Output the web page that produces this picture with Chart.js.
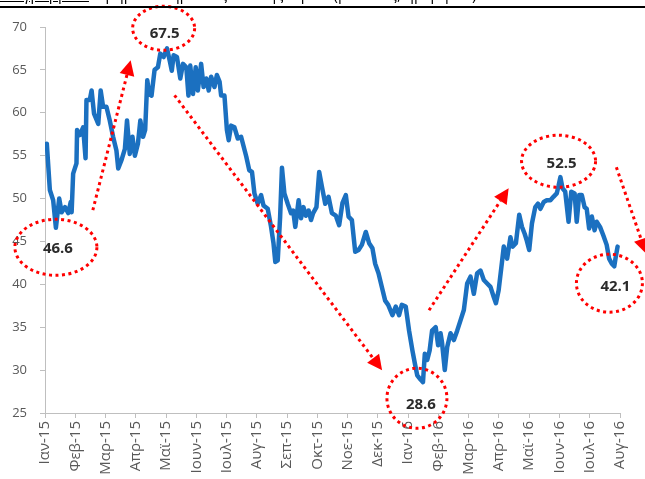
<!DOCTYPE html>
<html>
<head>
<meta charset="utf-8">
<script src="https://cdn.jsdelivr.net/npm/chart.js@4/dist/chart.umd.min.js"></script>
<style>
  html, body { margin: 0; padding: 0; background: #fff; }
  #wrap { position: relative; width: 645px; height: 479px; overflow: hidden; }
  #chart { position: absolute; left: 0; top: 0; }
  #title { position: absolute; left: 0; top: 0; width: 645px; height: 5px; overflow: hidden; }
  #title span { position: absolute; left: 0; top: -16px; font: 15px "Open Sans", sans-serif; color: #000; white-space: nowrap; }
  #rule { position: absolute; left: 0; top: 6px; width: 645px; height: 2px; background: #000; }
</style>
</head>
<body>
<div id="wrap">
  <canvas id="chart" width="645" height="479"></canvas>
  <div id="title"><span><u>Διάγραμμα 1</u>: Χρηματιστηριακός Δείκτης Τιμών (μονάδες, ημερήσια)</span></div>
  <div id="rule"></div>
</div>
<script>
// ── Data ──────────────────────────────────────────────────────────────────────
// x: months since start of Jan 2015 (0 = Ιαν-15), y: index level
const monthLabels = ['Ιαν-15','Φεβ-15','Μαρ-15','Απρ-15','Μαϊ-15','Ιουν-15','Ιουλ-15','Αυγ-15',
  'Σεπ-15','Οκτ-15','Νοε-15','Δεκ-15','Ιαν-16','Φεβ-16','Μαρ-16','Απρ-16','Μαϊ-16','Ιουν-16',
  'Ιουλ-16','Αυγ-16'];

const obsMonth = [
  0.06, 0.16, 0.27, 0.36, 0.47, 0.55, 0.66, 0.77, 0.85, 0.88, 0.93, 1.04, 1.06, 1.15, 1.26, 1.34,
  1.37, 1.48, 1.54, 1.62, 1.76, 1.84, 1.92, 2.03, 2.14, 2.25, 2.36, 2.42, 2.53, 2.64, 2.71, 2.80,
  2.89, 2.97, 3.07, 3.15, 3.24, 3.31, 3.38, 3.44, 3.52, 3.62, 3.73, 3.81, 3.92, 4.03, 4.12, 4.19,
  4.25, 4.36, 4.47, 4.56, 4.67, 4.74, 4.80, 4.89, 4.98, 5.05, 5.16, 5.24, 5.33, 5.41, 5.49, 5.60,
  5.68, 5.77, 5.82, 5.93, 6.01, 6.07, 6.15, 6.26, 6.37, 6.48, 6.65, 6.75, 6.84, 6.92, 7.03, 7.14,
  7.22, 7.36, 7.47, 7.55, 7.61, 7.69, 7.77, 7.83, 7.91, 8.02, 8.13, 8.20, 8.27, 8.38, 8.46, 8.54,
  8.62, 8.71, 8.79, 8.86, 8.97, 9.06, 9.15, 9.26, 9.37, 9.48, 9.61, 9.72, 9.83, 9.94, 10.03, 10.14,
  10.25, 10.36, 10.47, 10.60, 10.71, 10.82, 10.91, 11.02, 11.13, 11.24, 11.34, 11.48, 11.59, 11.70,
  11.79, 11.92, 12.03, 12.14, 12.22, 12.30, 12.41, 12.49, 12.55, 12.63, 12.71, 12.79, 12.91, 12.99,
  13.07, 13.12, 13.21, 13.29, 13.40, 13.51, 13.62, 13.73, 13.84, 13.95, 14.06, 14.17, 14.28, 14.39,
  14.50, 14.61, 14.72, 14.83, 14.90, 14.99, 15.08, 15.16, 15.27, 15.38, 15.45, 15.56, 15.67, 15.76,
  15.85, 15.92, 16.00, 16.09, 16.20, 16.29, 16.37, 16.48, 16.58, 16.70, 16.80, 16.91, 16.97, 17.03,
  17.10, 17.19, 17.30, 17.39, 17.50, 17.57, 17.65, 17.74, 17.83, 17.90, 17.98, 18.07, 18.16, 18.23,
  18.34, 18.45, 18.56, 18.64, 18.73, 18.81, 18.86, 18.92
];

const obsValue = [
  56.4, 51.0, 49.8, 46.6, 50.0, 48.4, 49.0, 48.3, 49.6, 48.4, 52.9, 54.1, 58.0, 57.4, 58.3, 54.7,
  61.5, 61.5, 62.6, 59.9, 58.7, 62.6, 60.7, 60.7, 59.1, 57.2, 55.6, 53.5, 54.5, 55.8, 59.1, 55.2,
  57.2, 55.0, 56.4, 59.1, 57.2, 58.0, 63.8, 62.2, 62.0, 65.0, 65.3, 66.9, 66.5, 67.5, 66.1, 64.9,
  66.7, 66.5, 64.0, 65.7, 65.3, 62.0, 65.5, 62.2, 65.3, 62.6, 65.7, 63.0, 64.0, 62.6, 64.2, 63.0,
  64.4, 63.6, 62.0, 62.0, 58.0, 56.8, 58.5, 58.3, 57.0, 57.2, 54.9, 53.3, 53.1, 50.6, 49.4, 50.4,
  49.2, 48.8, 46.7, 44.8, 42.6, 42.8, 47.9, 53.6, 50.6, 49.4, 48.3, 48.6, 46.7, 49.8, 47.7, 49.0,
  48.0, 48.6, 47.5, 48.3, 49.0, 53.1, 51.4, 49.4, 50.2, 48.3, 48.0, 46.9, 49.5, 50.4, 47.9, 47.5,
  43.8, 44.0, 44.6, 46.1, 44.8, 44.2, 42.4, 41.3, 39.7, 38.1, 37.6, 36.4, 37.4, 36.4,
  37.6, 37.4, 34.6, 32.3, 30.8, 29.4, 28.9, 28.6, 31.9, 31.2, 32.3, 34.6, 35.0, 32.9,
  34.3, 33.2, 30.0, 32.7, 34.3, 33.5, 34.6, 35.8, 37.0, 40.1, 40.9, 38.9, 41.3, 41.6,
  40.5, 40.1, 39.7, 38.5, 37.8, 39.3, 42.0, 44.4, 43.0, 45.5, 44.4, 44.8, 48.1, 46.7,
  45.9, 45.1, 44.0, 47.1, 49.0, 49.4, 48.8, 49.6, 49.8, 49.8, 50.2, 50.6, 51.5, 52.5,
  51.2, 50.8, 47.3, 50.8, 50.6, 47.3, 50.4, 50.4, 49.0, 48.8, 46.5, 47.9, 46.3, 47.3,
  46.7, 45.7, 44.6, 43.0, 42.4, 42.1, 43.2, 44.4
];

const yMin = 25, yMax = 70, yStep = 5;

// Callouts: dotted ellipse around a value label (centre in data units)
const callouts = [
  { label: '67.5', m: 3.92,  v: 69.85, rx: 31, ry: 22, dx: 1, dy: 5 },
  { label: '46.6', m: 0.36,  v: 44.32, rx: 41, ry: 28, dx: 2, dy: 1 },
  { label: '28.6', m: 12.29, v: 26.72, rx: 30, ry: 30, dx: 4, dy: 6 },
  { label: '52.5', m: 16.97, v: 54.35, rx: 37, ry: 26, dx: 3, dy: 2 },
  { label: '42.1', m: 18.65, v: 40.13, rx: 33, ry: 29, dx: 6, dy: 4 },
];

// Trend arrows: dotted line from (m0,v0) to arrow tip (m1,v1)
const arrows = [
  { m0: 1.58,  v0: 48.64, m1: 2.83,  v1: 66.12 },
  { m0: 4.28,  v0: 62.04, m1: 11.14, v1: 29.99 },
  { m0: 12.69, v0: 36.98, m1: 15.32, v1: 51.2 },
  { m0: 18.88, v0: 53.65, m1: 19.86, v1: 43.6 },
];

// ── Styles ────────────────────────────────────────────────────────────────────
const LINE_BLUE = '#1b70c0';
const RED       = '#ff0000';
const AXIS_GRAY = '#bfbfbf';
const TICK_TEXT = '#595959';
const FONT      = '"Open Sans", "DejaVu Sans", sans-serif';

// ── Callout plugin ────────────────────────────────────────────────────────────
const calloutPlugin = {
  id: 'callouts',
  afterDatasetsDraw(chart) {
    const { ctx, scales: { x, y } } = chart;
    ctx.save();
    ctx.lineWidth = 3;
    ctx.strokeStyle = RED;
    ctx.setLineDash([3, 3.5]);

    callouts.forEach(c => {
      const cx = x.getPixelForValue(c.m);
      const cy = y.getPixelForValue(c.v);
      ctx.beginPath();
      ctx.ellipse(cx, cy, c.rx, c.ry, 0, 0, Math.PI * 2);
      ctx.stroke();
    });

    arrows.forEach(a => {
      const x0 = x.getPixelForValue(a.m0), y0 = y.getPixelForValue(a.v0);
      const x1 = x.getPixelForValue(a.m1), y1 = y.getPixelForValue(a.v1);
      const len = Math.hypot(x1 - x0, y1 - y0);
      const ux = (x1 - x0) / len, uy = (y1 - y0) / len;
      const headLen = 15, headHalf = 7.5;
      const bx = x1 - ux * headLen, by = y1 - uy * headLen;
      ctx.beginPath();
      ctx.moveTo(x0, y0);
      ctx.lineTo(bx, by);
      ctx.stroke();
      ctx.save();
      ctx.setLineDash([]);
      ctx.fillStyle = RED;
      ctx.beginPath();
      ctx.moveTo(x1, y1);
      ctx.lineTo(bx - uy * headHalf, by + ux * headHalf);
      ctx.lineTo(bx + uy * headHalf, by - ux * headHalf);
      ctx.closePath();
      ctx.fill();
      ctx.restore();
    });

    ctx.setLineDash([]);
    ctx.fillStyle = '#2b2b2b';
    ctx.font = `bold 15px ${FONT}`;
    ctx.textAlign = 'center';
    ctx.textBaseline = 'middle';
    callouts.forEach(c => {
      ctx.fillText(c.label, x.getPixelForValue(c.m) + c.dx, y.getPixelForValue(c.v) + c.dy);
    });
    ctx.restore();
  },
};

// ── Chart ─────────────────────────────────────────────────────────────────────
new Chart(document.getElementById('chart'), {
  type: 'line',
  data: {
    datasets: [{
      data: obsMonth.map((m, i) => ({ x: m, y: obsValue[i] })),
      borderColor: LINE_BLUE,
      borderWidth: 4.5,
      borderJoinStyle: 'round',
      borderCapStyle: 'round',
      pointRadius: 0,
      tension: 0,
      fill: false,
    }],
  },
  options: {
    responsive: false,
    animation: false,
    layout: { padding: { top: 27, right: 25, left: 0, bottom: 0 } },
    plugins: { legend: { display: false }, tooltip: { enabled: false } },
    scales: {
      x: {
        type: 'linear',
        min: 0,
        max: monthLabels.length - 1,
        afterFit: s => { s.height = 66; },
        grid: { drawOnChartArea: false, drawTicks: true, tickLength: 5, color: AXIS_GRAY },
        border: { color: AXIS_GRAY, width: 1 },
        ticks: {
          stepSize: 1,
          autoSkip: false,
          maxRotation: 90,
          minRotation: 90,
          padding: 3,
          color: TICK_TEXT,
          font: { family: FONT, size: 15 },
          callback: v => monthLabels[v],
        },
      },
      y: {
        min: yMin,
        max: yMax,
        afterFit: s => { s.width = 45; },
        grid: { drawOnChartArea: false, drawTicks: true, tickLength: 5, color: AXIS_GRAY },
        border: { color: AXIS_GRAY, width: 1 },
        ticks: {
          stepSize: yStep,
          padding: 13,
          color: TICK_TEXT,
          font: { family: FONT, size: 13 },
        },
      },
    },
  },
  plugins: [calloutPlugin],
});
</script>
</body>
</html>
